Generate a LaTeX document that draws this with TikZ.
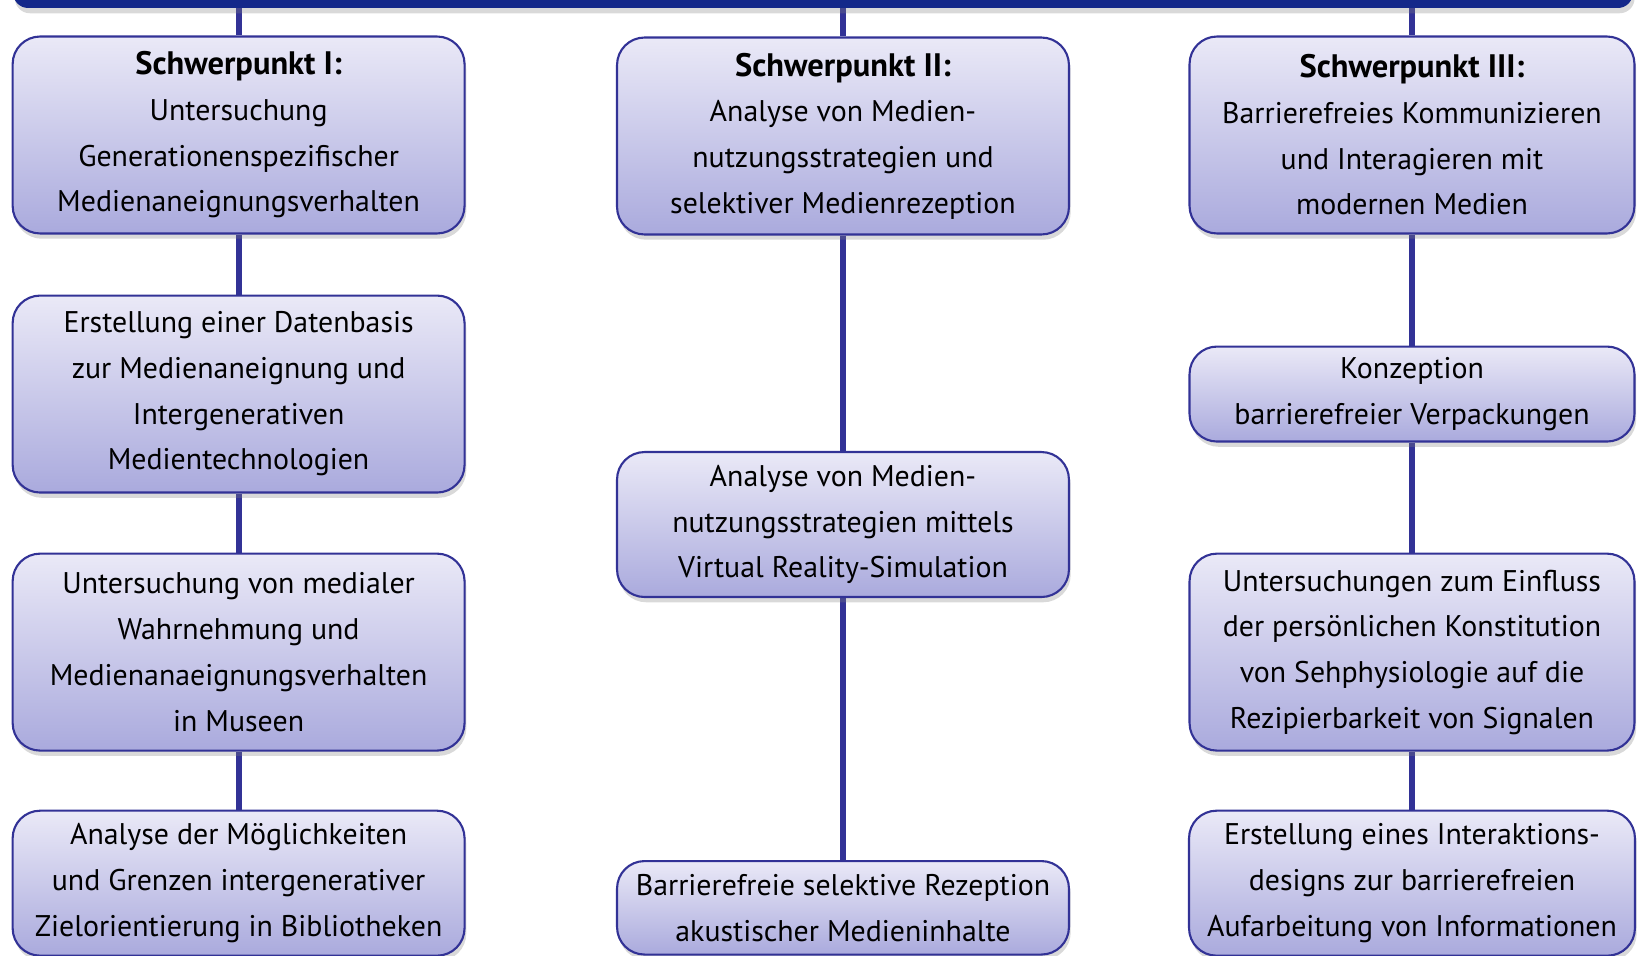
\documentclass[tikz,border=0pt]{standalone}
\usepackage{fontspec}
\setmainfont{PT Sans}
\usetikzlibrary{positioning,shadows}
\pgfdeclarelayer{background}
\pgfsetlayers{background,main}

\definecolor{barblue}{RGB}{20,40,138}
\definecolor{lineblue}{RGB}{50,50,150}
\definecolor{boxtop}{RGB}{234,233,247}
\definecolor{boxbottom}{RGB}{170,170,221}

\newcommand{\headline}[1]{{\fontsize{18.5}{26}\selectfont\textbf{#1}}}

\begin{document}
\begin{tikzpicture}[
    x=0.02cm, y=-0.02cm,
    topicbox/.style={
        draw=lineblue, line width=1.2pt, rounded corners=0.55cm,
        top color=boxtop, bottom color=boxbottom,
        minimum width=9.04cm, minimum height=3.94cm, align=center,
        font=\fontsize{17}{26}\selectfont,
        drop shadow={shadow xshift=1pt, shadow yshift=-3pt, opacity=0.3},
      },
    bar/.style={
        fill=barblue, rounded corners=0.3cm, minimum width=32.4cm,
        minimum height=0.8cm,
        drop shadow={shadow xshift=1pt, shadow yshift=-3pt, opacity=0.3},
      },
    link/.style={draw=lineblue, line width=3.4pt},
  ]
  \useasboundingbox (0,0) rectangle (1641,956);
  \node[bar](bar) at (823,-12) {};

  % Schwerpunkt I
  \node[topicbox](S1) at (238.6,135) {\headline{Schwerpunkt I:}\\Untersuchung\\Generationenspezifischer\\Medienaneignungsverhalten};
  \node[topicbox](A1) [below=1.2cm of S1] {Erstellung einer Datenbasis\\zur Medienaneignung und\\Intergenerativen\\Medientechnologien};
  \node[topicbox](A2) [below=1.18cm of A1] {Untersuchung von medialer\\Wahrnehmung und\\Medienanaeignungsverhalten\\in Museen};
  \node[topicbox, minimum height=2.9cm](A3) [below=1.16cm of A2] {Analyse der Möglichkeiten\\und Grenzen intergenerativer\\Zielorientierung in Bibliotheken};

  % Schwerpunkt II
  \node[topicbox](S2) at (843,136) {\headline{Schwerpunkt II:}\\Analyse von Medien-\\nutzungsstrategien und\\selektiver Medienrezeption};
  \node[topicbox, minimum height=2.9cm](B1) [below=4.31cm of S2] {Analyse von Medien-\\nutzungsstrategien mittels\\Virtual Reality-Simulation};
  \node[topicbox, minimum height=1.87cm](B2) [below=5.24cm of B1] {Barrierefreie selektive Rezeption\\akustischer Medieninhalte};

  % Schwerpunkt III
  \node[topicbox, minimum width=8.9cm](S3) at (1412,135) {\headline{Schwerpunkt III:}\\Barrierefreies Kommunizieren\\und Interagieren mit\\modernen Medien};
  \node[topicbox, minimum width=8.9cm, minimum height=1.9cm](C1) [below=2.22cm of S3] {Konzeption\\barrierefreier Verpackungen};
  \node[topicbox, minimum width=8.9cm](C2) [below=2.2cm of C1] {Untersuchungen zum Einfluss\\der persönlichen Konstitution\\von Sehphysiologie auf die\\Rezipierbarkeit von Signalen};
  \node[topicbox, minimum width=8.92cm, minimum height=2.9cm](C3) [below=1.16cm of C2] {Erstellung eines Interaktions-\\designs zur barrierefreien\\Aufarbeitung von Informationen};

  \begin{pgfonlayer}{background}
    \path[link]
      (S1 |- bar.south) edge [] (S1)
      (S1) edge [] (A1)
      (A1) edge [] (A2)
      (A2) edge [] (A3)
      (S2 |- bar.south) edge [] (S2)
      (S2) edge [] (B1)
      (B1) edge [] (B2)
      (S3 |- bar.south) edge [] (S3)
      (S3) edge [] (C1)
      (C1) edge [] (C2)
      (C2) edge [] (C3)
    ;
  \end{pgfonlayer}
\end{tikzpicture}
\end{document}
